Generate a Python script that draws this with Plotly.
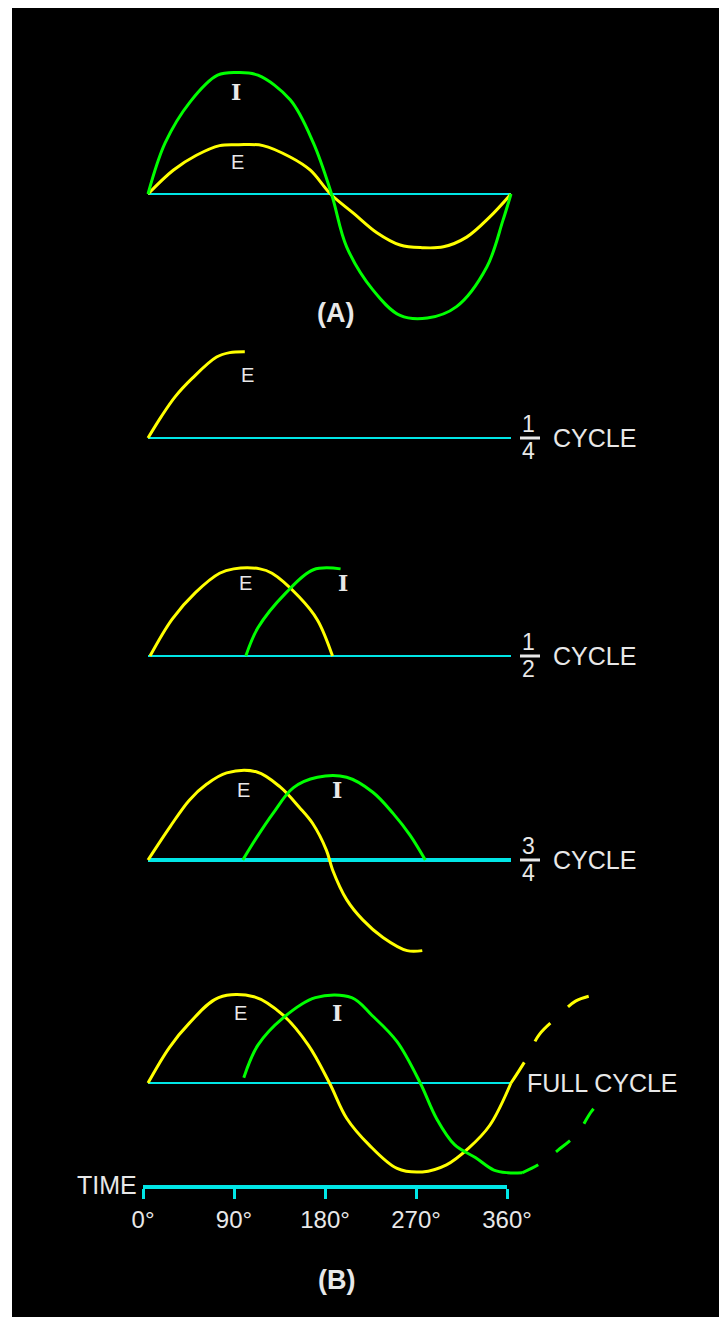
import plotly.graph_objects as go

# --- values (degrees of rotation, amplitude in panel units) ---

# (A) E and I in phase
a_e_deg = [0, 25, 48, 71, 90, 114, 141, 161, 181, 204, 227, 250, 272, 293, 316, 339, 360]
a_e_amp = [0, .27, .44, .55, .56, .55, .42, .27, 0, -.22, -.44, -.58, -.61, -.60, -.49, -.26, 0]
a_i_deg = [0, 17, 42, 69, 89, 109, 141, 164, 182, 197, 223, 250, 277, 306, 336, 352, 360]
a_i_amp = [0, .58, 1.05, 1.35, 1.38, 1.35, 1.07, .58, 0, -.60, -1.09, -1.38, -1.41, -1.28, -.83, -.30, 0]

# (B) 1/4 cycle
q_e_deg = [0, 13, 27, 44, 68, 81, 96]
q_e_amp = [0, .24, .47, .68, .92, .97, .98]

# (B) 1/2 cycle
h_e_deg = [2, 24, 47, 71, 85, 111, 123, 150, 168, 183]
h_e_amp = [0, .42, .72, .94, .99, .99, .94, .67, .41, 0]
h_i_deg = [97, 109, 137, 164, 191]
h_i_amp = [0, .32, .72, .98, .99]

# (B) 3/4 cycle
t_e_deg = [0, 22, 41, 58, 78, 108, 131, 150, 163, 177, 183, 197, 213, 233, 257, 272]
t_e_amp = [0, .38, .68, .86, .99, 1.0, .83, .60, .42, .11, -.11, -.45, -.68, -.88, -1.03, -1.03]
t_i_deg = [94, 108, 124, 144, 168, 197, 223, 243, 260, 275]
t_i_amp = [0, .26, .53, .82, .94, .94, .77, .53, .28, 0]

# (B) full cycle, solid part and the dashed continuation
f_e_deg = [0, 21, 41, 70, 105, 134, 159, 180, 197, 219, 247, 272, 296, 318, 339, 360]
f_e_amp = [0, .40, .68, .97, .98, .77, .43, 0, -.40, -.70, -.97, -1.01, -.93, -.74, -.48, 0]
f_e_next_deg = [360, 375, 388, 407, 424, 442]
f_e_next_amp = [0, .27, .55, .76, .93, 1.0]
f_i_deg = [95, 109, 134, 166, 202, 222, 247, 270, 286, 304, 325, 343, 357, 371]
f_i_amp = [.06, .43, .74, .97, .97, .77, .47, 0, -.40, -.70, -.85, -.99, -1.02, -1.02]
f_i_next_deg = [371, 387, 407, 426, 440, 452]
f_i_next_amp = [-1.02, -.93, -.76, -.57, -.32, -.17]

time_ticks = [0, 90, 180, 270, 360]
time_labels = ["0°", "90°", "180°", "270°", "360°"]
fractions = [("y2", "1", "4"), ("y3", "1", "2"), ("y4", "3", "4")]

# --- page geometry ---
OFF = 8                  # body margin around the plotly div
FIG_W, FIG_H = 711, 1309
ZERO_PX = 148            # page x of 0 degrees
DEG_PER_PX = 360 / 363
UNIT_PX = 88             # pixels per amplitude unit
Y_HALF = 1.8

YELLOW = "#FFFF00"
GREEN = "#00FF00"
CYAN = "#00E6E6"
TEXT = "#E8E8E8"
SANS = "Liberation Sans"
SERIF = "DejaVu Serif"

baselines = {"y": 194, "y2": 438, "y3": 656, "y4": 860, "y5": 1083}


def px(page_x):
    return (page_x - OFF) / FIG_W


def py(page_y):
    return 1 - (page_y - OFF) / FIG_H


def deg(page_x):
    return (page_x - ZERO_PX) * DEG_PER_PX


def amp(ax, page_y):
    return (baselines[ax] - page_y) / UNIT_PX


fig = go.Figure()


def curve(xs, ys, yaxis, color, dash=None, width=3):
    fig.add_trace(go.Scatter(
        x=xs, y=ys, yaxis=yaxis, mode="lines", hoverinfo="skip",
        line=dict(color=color, width=width, shape="spline", dash=dash),
    ))


# baselines
for ax in baselines:
    curve([0, 360], [0, 0], ax, CYAN, width=4 if ax == "y4" else 2)

curve(a_e_deg, a_e_amp, "y", YELLOW)
curve(a_i_deg, a_i_amp, "y", GREEN)
curve(q_e_deg, q_e_amp, "y2", YELLOW)
curve(h_e_deg, h_e_amp, "y3", YELLOW)
curve(h_i_deg, h_i_amp, "y3", GREEN)
curve(t_e_deg, t_e_amp, "y4", YELLOW)
curve(t_i_deg, t_i_amp, "y4", GREEN)
curve(f_e_deg, f_e_amp, "y5", YELLOW)
curve(f_i_deg, f_i_amp, "y5", GREEN)
curve(f_e_next_deg, f_e_next_amp, "y5", YELLOW, dash="24px,24px")
curve(f_i_next_deg, f_i_next_amp, "y5", GREEN, dash="18px,22px")

# invisible carrier for the time axis
fig.add_trace(go.Scatter(x=time_ticks, y=[0] * len(time_ticks), xaxis="x2", yaxis="y5",
                         mode="markers", marker=dict(opacity=0), hoverinfo="skip"))

annotations = []


def label(text, x, y, yref, size=20, family=SANS, xanchor="center", bold=False):
    annotations.append(dict(
        text=f"<b>{text}</b>" if bold else text, x=x, y=y, xref="x", yref=yref,
        xanchor=xanchor, yanchor="middle", showarrow=False,
        font=dict(family=family, size=size, color=TEXT),
    ))


label("I", deg(236), amp("y", 92), "y", 22, SERIF, bold=True)
label("E", deg(237), amp("y", 162), "y")
label("(A)", deg(335), py(313), "paper", 27, bold=True)

label("E", deg(247), amp("y2", 375), "y2")
label("E", deg(245), amp("y3", 583), "y3")
label("I", deg(343), amp("y3", 583), "y3", 22, SERIF, bold=True)
label("E", deg(243), amp("y4", 790), "y4")
label("I", deg(337), amp("y4", 790), "y4", 22, SERIF, bold=True)
label("E", deg(240), amp("y5", 1013), "y5")
label("I", deg(337), amp("y5", 1013), "y5", 22, SERIF, bold=True)

shapes = [dict(type="rect", xref="paper", yref="paper", x0=px(12), x1=1, y0=0, y1=1,
               fillcolor="black", line_width=0, layer="below")]

for ax, num, den in fractions:
    yb = baselines[ax]
    label(num, deg(528), amp(ax, yb - 14), ax, 23)
    label(den, deg(528), amp(ax, yb + 13), ax, 23)
    label("CYCLE", deg(551), amp(ax, yb), ax, 25, xanchor="left")
    shapes.append(dict(type="line", xref="x", yref=ax, x0=deg(520), x1=deg(540),
                       y0=amp(ax, yb), y1=amp(ax, yb),
                       line=dict(color=TEXT, width=3)))

label("FULL CYCLE", deg(525), 0, "y5", 25, xanchor="left")
label("TIME", deg(139), py(1185), "paper", 25, xanchor="right")
label("(B)", deg(336), py(1280), "paper", 27, bold=True)

layout_axes = {}
for ax, base in baselines.items():
    centre = py(base)
    half = Y_HALF * UNIT_PX / FIG_H
    key = "yaxis" if ax == "y" else "yaxis" + ax[1:]
    layout_axes[key] = dict(domain=[centre - half, centre + half], range=[-Y_HALF, Y_HALF],
                            anchor="x", visible=False, automargin=False)

fig.update_layout(
    width=FIG_W, height=FIG_H,
    margin=dict(l=0, r=0, t=0, b=0, pad=0),
    paper_bgcolor="white", plot_bgcolor="rgba(0,0,0,0)",
    showlegend=False,
    xaxis=dict(domain=[0, 1], range=[deg(OFF), deg(OFF + FIG_W)], visible=False,
               automargin=False),
    xaxis2=dict(domain=[px(143), px(507)], range=[0, 360], anchor="free", position=py(1187),
                showline=True, linecolor=CYAN, linewidth=4, showgrid=False, zeroline=False,
                automargin=False,
                ticks="outside", tickcolor=CYAN, ticklen=10, tickwidth=3,
                tickvals=time_ticks, ticktext=time_labels,
                tickfont=dict(family=SANS, size=24, color=TEXT)),
    annotations=annotations,
    shapes=shapes,
    **layout_axes,
)

fig.write_html("out.html")
